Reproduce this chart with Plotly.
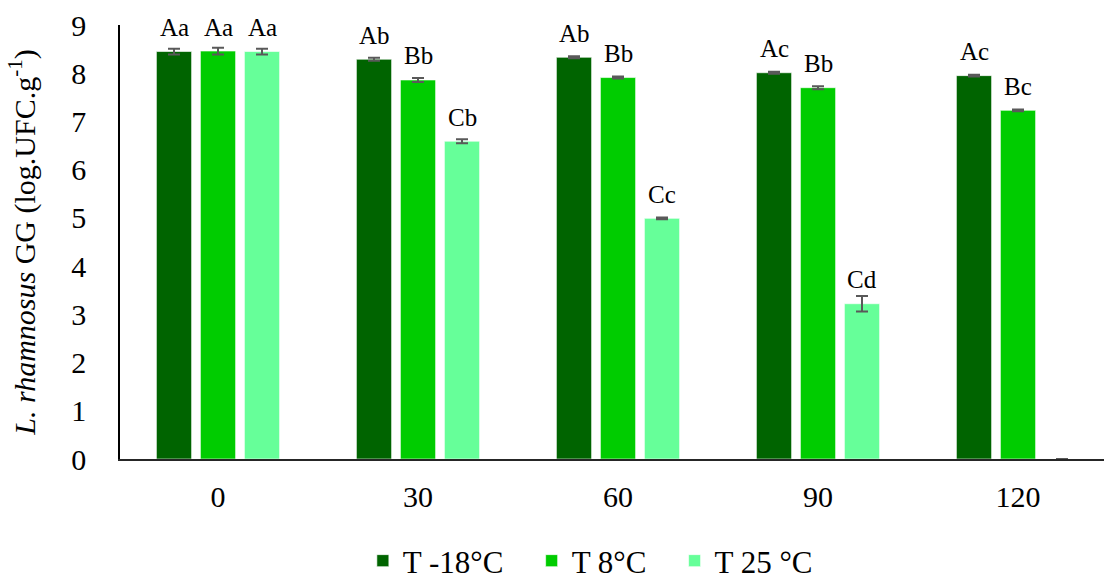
import plotly.graph_objects as go

days = ["0", "30", "60", "90", "120"]
series_names = ["T -18°C", "T 8°C", "T 25 °C"]
colors = ["#006400", "#00CC00", "#66FF99"]

t_minus18 = [8.45, 8.29, 8.33, 8.01, 7.95]
t_8 = [8.46, 7.86, 7.91, 7.70, 7.23]
t_25 = [8.45, 6.59, 4.99, 3.22, 0.0]

err_minus18 = [0.06, 0.03, 0.02, 0.02, 0.02]
err_8 = [0.07, 0.04, 0.02, 0.03, 0.02]
err_25 = [0.06, 0.04, 0.02, 0.16, 0.0]

lab_minus18 = ["Aa", "Ab", "Ab", "Ac", "Ac"]
lab_8 = ["Aa", "Bb", "Bb", "Bb", "Bc"]
lab_25 = ["Aa", "Cb", "Cc", "Cd", ""]

values = [t_minus18, t_8, t_25]
errors = [err_minus18, err_8, err_25]
labels = [lab_minus18, lab_8, lab_25]

FONT = "Liberation Serif, Times New Roman, serif"
bargap = 0.34
slot = (1 - bargap) / 3
xs = list(range(len(days)))
legend_pad = ["\u00a0\u00a0\u00a0", "\u00a0\u00a0\u00a0", ""]

fig = go.Figure()
for k in range(3):
    fig.add_trace(go.Bar(
        x=xs, y=values[k], name=series_names[k] + legend_pad[k],
        marker=dict(color=colors[k], line=dict(color="rgba(255,255,255,0.6)", width=1)),
        error_y=dict(type="data", array=errors[k], visible=True,
                     color="#595959", thickness=2, width=6),
    ))

annotations = []
for k in range(3):
    for i in xs:
        if labels[k][i]:
            annotations.append(dict(
                x=i + (k - 1) * slot, y=values[k][i], xref="x", yref="y",
                text=labels[k][i], showarrow=False, yshift=24,
                yanchor="middle", font=dict(family=FONT, size=25, color="#000000"),
            ))

fig.update_layout(
    width=1104, height=582,
    margin=dict(l=120, r=0, t=25, b=123, autoexpand=False),
    paper_bgcolor="white", plot_bgcolor="white",
    barmode="group", bargap=bargap, bargroupgap=0.2,
    font=dict(family=FONT, size=30, color="#000000"),
    showlegend=True,
    legend=dict(orientation="h", x=0.478, xanchor="center", y=-0.235, yanchor="middle",
                font=dict(family=FONT, size=31, color="#000000"), traceorder="normal"),
    annotations=annotations,
    xaxis=dict(tickmode="array", tickvals=xs, ticktext=days, range=[-0.49, 4.43],
               showline=True, linecolor="#262626", linewidth=2, ticks="",
               showgrid=False, zeroline=False, ticklabelstandoff=10, automargin=False,
               tickfont=dict(family=FONT, size=30)),
    yaxis=dict(range=[0, 9], dtick=1, showline=True, linecolor="#000000", linewidth=1.5,
               ticks="", showgrid=False, zeroline=False, ticklabelstandoff=26, automargin=False,
               tickfont=dict(family=FONT, size=30),
               title=dict(text="<i>L. rhamnosus</i> GG (log.UFC.g<sup>-1</sup>)",
                          font=dict(family=FONT, size=30), standoff=27)),
)

fig.write_html(
    "out.html",
    config={"displayModeBar": False},
    post_script=(
        "document.body.style.margin='0';"
        "document.body.style.overflow='hidden';"
        "document.documentElement.style.overflow='hidden';"
    ),
)
